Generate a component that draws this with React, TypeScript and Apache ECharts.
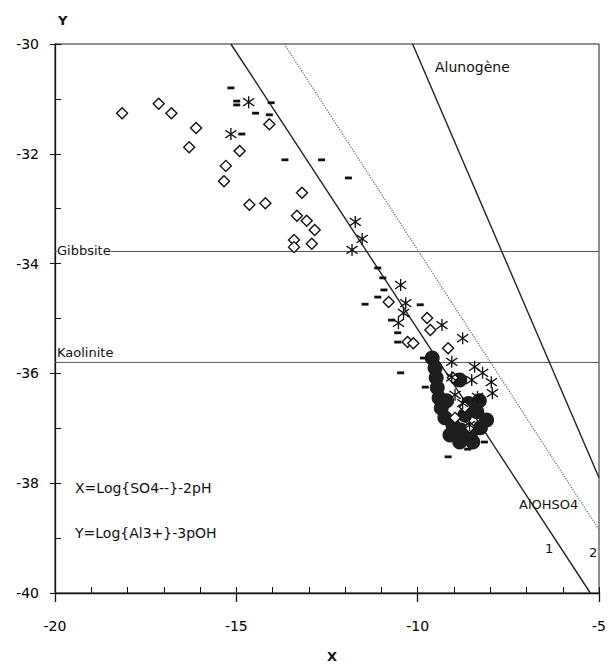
import React, { useEffect, useRef } from "react";
import * as echarts from "echarts";

// ---- data ----
const xTicks = [-20, -15, -10, -5];
const yTicks = [-30, -32, -34, -36, -38, -40];

const diamondX = [-18.15, -17.14, -16.79, -16.11, -16.3, -14.91, -15.29, -15.34, -14.64, -14.2, -14.09, -13.19, -13.33, -13.06, -12.84, -13.41, -13.41, -12.92, -10.8, -10.28, -9.74, -9.65, -9.16, -10.12, -8.97, -8.57, -9.03, -8.7];
const diamondY = [-31.26, -31.09, -31.26, -31.53, -31.88, -31.95, -32.22, -32.5, -32.93, -32.9, -31.46, -32.71, -33.13, -33.22, -33.39, -33.57, -33.7, -33.64, -34.7, -35.43, -34.99, -35.21, -35.54, -35.45, -36.81, -36.98, -36.08, -36.61];

const starX = [-14.66, -15.15, -11.72, -11.53, -11.81, -10.47, -10.33, -10.53, -10.39, -9.33, -8.76, -9.06, -8.43, -8.21, -9.06, -8.51, -8.97, -7.94, -8.35, -8.57, -8.76, -7.97];
const starY = [-31.06, -31.64, -33.24, -33.55, -33.75, -34.39, -34.72, -35.08, -34.9, -35.12, -35.36, -35.79, -35.88, -35.99, -36.07, -36.12, -36.39, -36.36, -36.43, -36.94, -36.54, -36.16];

const dashX = [-15.15, -14.99, -14.99, -14.47, -14.04, -14.09, -14.85, -13.66, -12.65, -11.91, -11.1, -10.96, -10.93, -11.45, -11.1, -9.93, -10.72, -10.55, -10.55, -9.84, -10.47, -9.79, -8.16, -9.16, -8.62];
const dashY = [-30.8, -31.04, -31.11, -31.26, -31.07, -31.29, -31.64, -32.11, -32.11, -32.44, -34.08, -34.26, -34.48, -34.74, -34.61, -34.75, -35.03, -35.26, -35.43, -35.72, -35.99, -36.25, -37.25, -37.52, -37.38];

const blobX = [-9.6, -9.52, -9.49, -9.46, -9.41, -9.35, -9.25, -9.03, -8.81, -8.54, -8.27, -8.1, -9.11, -8.84, -8.48, -8.7, -8.37, -8.84, -9.2, -8.6, -8.3];
const blobY = [-35.72, -35.9, -36.08, -36.26, -36.45, -36.63, -36.81, -36.94, -37.03, -37.09, -36.99, -36.85, -37.12, -37.25, -37.25, -36.76, -36.7, -36.12, -36.5, -36.55, -36.5];

const line1X = [-15.15, -5.24];
const line1Y = [-30, -40];
const line2X = [-13.68, -5.0];
const line2Y = [-30, -38.85];
const alunogeneX = [-10.14, -5.0];
const alunogeneY = [-30, -37.9];
const gibbsiteY = -33.78;
const kaoliniteY = -35.8;

const STAR =
  "path://M5.4 0 H6.6 V12 H5.4 Z M0.6 2.6 L1.4 1.6 L11.4 9.4 L10.6 10.4 Z M11.4 2.6 L1.4 10.4 L0.6 9.4 L10.6 1.6 Z";

const zip = (xs: number[], ys: number[]) => xs.map((x, i) => [x, ys[i]]);

const FONT = "DejaVu Sans";

export default function App() {
  const ref = useRef<HTMLDivElement>(null);
  useEffect(() => {
    if (!ref.current) return;
    const chart = echarts.init(ref.current, undefined, { renderer: "svg" });
    const axisCommon = { min: -20, max: -5 };
    const lineSeries = (xs: number[], ys: number[], style: any) => ({
      type: "line",
      data: zip(xs, ys),
      symbol: "none",
      lineStyle: style,
      z: 2,
      silent: true,
    });
    chart.setOption({
      animation: false,
      backgroundColor: "#fff",
      grid: { left: 55, right: 3, top: 44, bottom: 71, show: true, borderColor: "#222", borderWidth: 1 },
      xAxis: [
        {
          type: "value",
          ...axisCommon,
          interval: 1,
          axisLine: { lineStyle: { color: "#111", width: 1.3 } },
          axisTick: { inside: true, length: 6, lineStyle: { color: "#111" } },
          axisLabel: {
            margin: 26,
            color: "#000",
            fontFamily: FONT,
            fontSize: 14,
            formatter: (v: number) => (xTicks.includes(v) ? String(v) : ""),
          },
          splitLine: { show: false },
        },
        {
          type: "value",
          ...axisCommon,
          interval: 5,
          position: "bottom",
          axisLine: { show: false },
          axisTick: { inside: false, length: 9, lineStyle: { color: "#111", width: 1.3 } },
          axisLabel: { show: false },
          splitLine: { show: false },
        },
      ],
      yAxis: [
        {
          type: "value",
          min: -40,
          max: -30,
          interval: 1,
          axisLine: { show: true, lineStyle: { color: "#111", width: 1.3 } },
          axisTick: { show: true, inside: true, length: 6, lineStyle: { color: "#111" } },
          axisLabel: {
            margin: 16,
            color: "#000",
            fontFamily: FONT,
            fontSize: 14,
            formatter: (v: number) => (yTicks.includes(v) ? String(v) : ""),
          },
          splitLine: { show: false },
        },
        {
          type: "value",
          min: -40,
          max: -30,
          interval: 2,
          position: "left",
          axisLine: { show: false },
          axisTick: { show: true, inside: false, length: 5, lineStyle: { color: "#111" } },
          axisLabel: { show: false },
          splitLine: { show: false },
        },
      ],
      series: [
        lineSeries([-20, -5], [gibbsiteY, gibbsiteY], { color: "#555", width: 1 }),
        lineSeries([-20, -5], [kaoliniteY, kaoliniteY], { color: "#555", width: 1 }),
        lineSeries(line1X, line1Y, { color: "#222", width: 1.4 }),
        lineSeries(line2X, line2Y, { color: "#777", width: 1.3, type: "dotted" }),
        lineSeries(alunogeneX, alunogeneY, { color: "#222", width: 1.4 }),
        {
          type: "scatter",
          data: zip(blobX, blobY),
          symbol: "circle",
          symbolSize: 15,
          itemStyle: { color: "#1e1e1e", opacity: 1 },
          z: 3,
        },
        {
          type: "scatter",
          data: zip(diamondX, diamondY),
          symbol: "diamond",
          symbolSize: [11, 11],
          itemStyle: { color: "#fff", borderColor: "#111", borderWidth: 1.4, opacity: 1 },
          z: 4,
        },
        {
          type: "scatter",
          data: zip(starX, starY),
          symbol: STAR,
          symbolSize: 12,
          itemStyle: { color: "#111", opacity: 1 },
          z: 5,
        },
        {
          type: "scatter",
          data: zip(dashX, dashY),
          symbol: "rect",
          symbolSize: [7, 2.8],
          itemStyle: { color: "#111", opacity: 1 },
          z: 5,
        },
      ],
      graphic: [
        { type: "text", left: 58, top: 14, style: { text: "Y", fontFamily: FONT, fontSize: 13, fontWeight: "bold", fill: "#111" } },
        { type: "text", left: 327, top: 650, style: { text: "X", fontFamily: FONT, fontSize: 13, fontWeight: "bold", fill: "#111" } },
        { type: "text", left: 57, top: 244, z: 10, style: { text: "Gibbsite", fontFamily: FONT, fontSize: 13, fill: "#111", backgroundColor: "#fff" } },
        { type: "text", left: 57, top: 346, z: 10, style: { text: "Kaolinite", fontFamily: FONT, fontSize: 13, fill: "#111" } },
        { type: "text", left: 435, top: 60, style: { text: "Alunogène", fontFamily: FONT, fontSize: 14, fill: "#111" } },
        { type: "text", left: 519, top: 498, style: { text: "AlOHSO4", fontFamily: FONT, fontSize: 13, fill: "#111" } },
        { type: "text", left: 545, top: 542, style: { text: "1", fontFamily: FONT, fontSize: 13, fill: "#111" } },
        { type: "text", left: 589, top: 546, style: { text: "2", fontFamily: FONT, fontSize: 13, fill: "#111" } },
        { type: "text", left: 75, top: 481, style: { text: "X=Log{SO4--}-2pH", fontFamily: FONT, fontSize: 14, fill: "#111" } },
        { type: "text", left: 75, top: 526, style: { text: "Y=Log{Al3+}-3pOH", fontFamily: FONT, fontSize: 14, fill: "#111" } },
      ],
    });
    return () => chart.dispose();
  }, []);
  return (
    <div
      ref={ref}
      style={{ position: "fixed", left: 0, top: 0, width: 609, height: 664, background: "#fff" }}
    />
  );
}
